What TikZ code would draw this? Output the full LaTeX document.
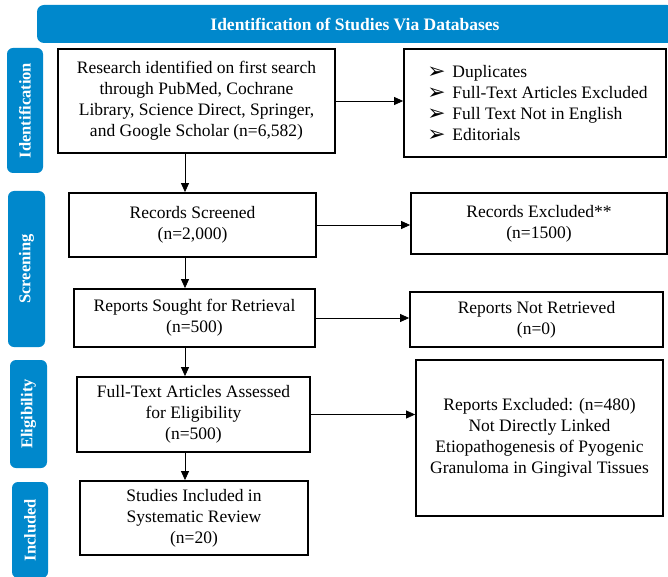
\documentclass[tikz,border=0pt]{standalone}
\usepackage{fontspec}
\setmainfont{Liberation Serif}
\newfontfamily\dejavu{DejaVu Sans}
\usepackage{xcolor}
\usetikzlibrary{arrows.meta,positioning,calc}
\definecolor{prismablue}{RGB}{0,136,204}
\tikzset{%
	banner/.style  = {fill=prismablue, rounded corners=7pt},
	phase/.style   = {fill=prismablue, rounded corners=6pt, rotate=90, text=white, font=\fontsize{16.5}{19}\selectfont\bfseries, inner sep=0pt},
	process/.style = {draw, line width=1.8pt, rectangle, align=center, inner sep=0pt, font=\fontsize{17.5}{21}\selectfont},
	arrow/.style   = {line width=0.8pt, -{Triangle[length=9pt,width=8pt]}},
}
\newcommand{\bul}{\hspace*{5pt}\makebox[25pt][l]{\raisebox{-1pt}{\scalebox{1.45}{\dejavu\fontsize{15}{21}\selectfont ➢}}}}

\begin{document}
\begin{tikzpicture}[x=1pt,y=-1pt]
	\clip (0,0) rectangle (668,577);
	\fill[white] (0,0) rectangle (668,577);
	
	% header and phase labels
	\fill[banner] (37,5) rectangle (674,43);
	\node[text=white, font=\fontsize{17.5}{21}\selectfont\bfseries] (head) at (355,24) {Identification of Studies Via Databases};
	\node[phase, minimum width=125pt, minimum height=36pt] (pid) at (25,110.5) {Identification};
	\node[phase, minimum width=156pt, minimum height=37pt] (psc) at (26.5,269) {Screening};
	\node[phase, minimum width=108pt, minimum height=37pt] (pel) at (28.5,414) {Eligibility};
	\node[phase, minimum width=96pt, minimum height=36pt] (pin) at (30,530) {Included};
	
	% main column
	\node[process, minimum width=277pt, minimum height=104pt] (ident) at (196.5,101) {Research identified on first search\\through PubMed, Cochrane\\Library, Science Direct, Springer,\\and Google Scholar (n=6,582)};
	\node[process, minimum width=247pt, minimum height=64pt] (screen) at (192.5,225) {Records Screened\\(n=2,000)};
	\node[process, minimum width=241pt, minimum height=58pt] (sought) at (194.5,318) {Reports Sought for Retrieval\\(n=500)};
	\node[process, minimum width=233pt, minimum height=75pt] (assess) at (193.5,414.5) {Full-Text Articles Assessed\\for Eligibility\\(n=500)};
	\node[process, minimum width=228pt, minimum height=74pt] (incl) at (194,518) {Studies Included in\\Systematic Review\\(n=20)};
	
	% exclusions
	\node[process, minimum width=262pt, minimum height=108pt, align=left] (dup) at (535,103) {\bul Duplicates\\\bul Full-Text Articles Excluded\\\bul Full Text Not in English\\\bul Editorials};
	\node[process, minimum width=256pt, minimum height=61pt] (recex) at (539,223.5) {Records Excluded**\\(n=1500)};
	\node[process, minimum width=253pt, minimum height=55pt] (notret) at (536.5,319.5) {Reports Not Retrieved\\(n=0)};
	\node[process, minimum width=247pt, minimum height=156pt] (repex) at (539.5,438) {Reports Excluded: (n=480)\\Not Directly Linked\\Etiopathogenesis of Pyogenic\\Granuloma in Gingival Tissues};
	
	% connectors
	\coordinate (spine) at (185,0);
	\draw[arrow] (ident.south -| spine) -- (screen.north -| spine);
	\draw[arrow] (screen.south -| spine) -- (sought.north -| spine);
	\draw[arrow] (sought.south -| spine) -- (assess.north -| spine);
	\draw[arrow] (assess.south -| spine) -- (incl.north -| spine);
	
	\draw[arrow] (ident.east) -- (ident.east -| dup.west);
	\draw[arrow] (screen.east) -- (screen.east -| recex.west);
	\draw[arrow] (sought.east) -- (sought.east -| notret.west);
	\draw[arrow] (assess.east) -- (assess.east -| repex.west);
\end{tikzpicture}
\end{document}
